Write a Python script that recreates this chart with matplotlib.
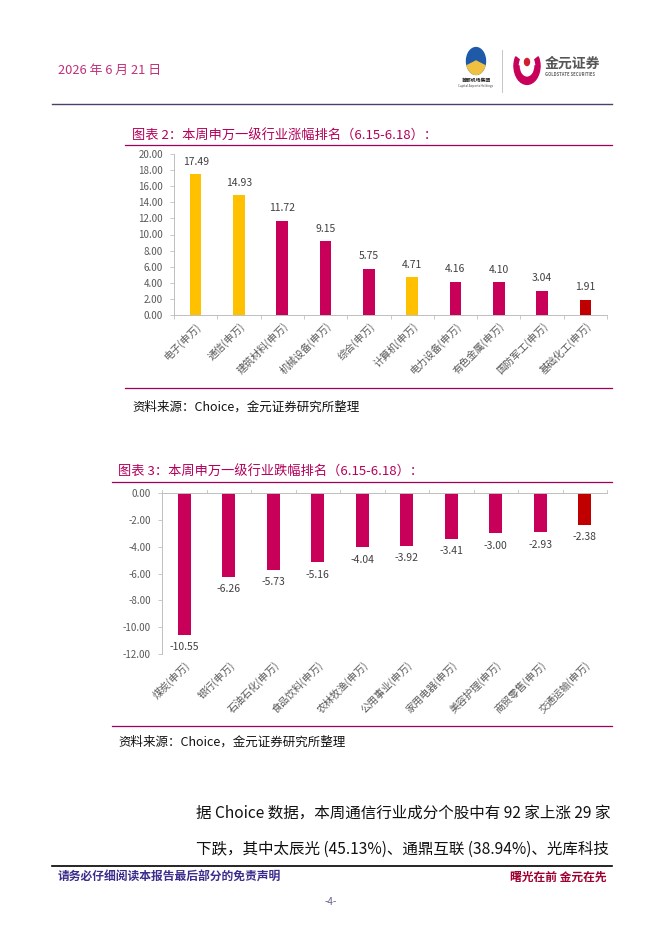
import matplotlib
matplotlib.use("Agg")
import matplotlib.pyplot as plt
from matplotlib.patches import Circle, Wedge
from matplotlib.lines import Line2D

plt.rcParams['font.family'] = ['Noto Sans CJK SC', 'DejaVu Sans']
plt.rcParams['axes.unicode_minus'] = False

# data
up_names = ["电子(申万)", "通信(申万)", "建筑材料(申万)", "机械设备(申万)", "综合(申万)",
            "计算机(申万)", "电力设备(申万)", "有色金属(申万)", "国防军工(申万)", "基础化工(申万)"]
up_vals = [17.49, 14.93, 11.72, 9.15, 5.75, 4.71, 4.16, 4.10, 3.04, 1.91]
up_gold = ["电子(申万)", "通信(申万)", "计算机(申万)"]

down_names = ["煤炭(申万)", "银行(申万)", "石油石化(申万)", "食品饮料(申万)", "农林牧渔(申万)",
              "公用事业(申万)", "家用电器(申万)", "美容护理(申万)", "商贸零售(申万)", "交通运输(申万)"]
down_vals = [-10.55, -6.26, -5.73, -5.16, -4.04, -3.92, -3.41, -3.00, -2.93, -2.38]

GOLD = "#FFC000"
MAG = "#C8005A"
RED = "#C00000"
TXT = "#404040"

W, H = 662, 936
fig = plt.figure(figsize=(W / 100, H / 100), dpi=100)


def fx(x):
    return x / W


def fy(y):
    return 1 - y / H


def hline(y, x0, x1, color, lw=1.0):
    fig.add_artist(Line2D([fx(x0), fx(x1)], [fy(y), fy(y)], color=color, lw=lw,
                          transform=fig.transFigure))


def ftext(x, y, s, **kw):
    fig.text(fx(x), fy(y), s, **kw)


# header
ftext(58, 70, "2026 年 6 月 21 日", color="#C0307A", fontsize=9.3, va="center")
hline(104, 52, 612, "#4B3F6B", 1.0)

# logos (rough)
c1 = Circle((fx(476), fy(61)), 9.5 / W, transform=fig.transFigure, color="#1E5AA8")
fig.add_artist(c1)
c1b = Wedge((fx(476), fy(61)), 9.5 / W, 200, 340, transform=fig.transFigure, color="#F0C040")
fig.add_artist(c1b)
ftext(476, 80, "首都机场集团", fontsize=3.5, ha="center", va="center", fontweight="bold", color="#222222")
ftext(476, 86, "Capital Airports Holdings", fontsize=2.2, ha="center", va="center", color="#444444")
fig.add_artist(Line2D([fx(502), fx(502)], [fy(50), fy(92)], color="#BBBBBB", lw=0.6,
                      transform=fig.transFigure))
fig.add_artist(Wedge((fx(527), fy(66)), 13 / W, 180, 360, width=5 / W,
                     transform=fig.transFigure, color="#C8005A"))
fig.add_artist(Wedge((fx(527), fy(66)), 13 / W, 150, 180, width=4 / W,
                     transform=fig.transFigure, color="#C8005A"))
fig.add_artist(Wedge((fx(527), fy(66)), 13 / W, 0, 30, width=4 / W,
                     transform=fig.transFigure, color="#C8005A"))
fig.add_artist(Circle((fx(527), fy(62)), 2.5 / W, transform=fig.transFigure, color="#D02030"))
ftext(545, 64, "金元证券", fontsize=10, fontweight="bold", color="#555555", va="center")
ftext(545, 75, "GOLDSTATE SECURITIES", fontsize=3, fontweight="bold", color="#666666", va="center")

# ---- chart 2 ----
ftext(132, 136, "图表 2：本周申万一级行业涨幅排名（6.15-6.18）：", color="#B4005A",
      fontsize=9.5, va="center")
hline(145, 125, 612, "#A0005A", 0.9)

ax1 = fig.add_axes([fx(174), fy(315), (607 - 174) / W, (315 - 154) / H])
xs = range(len(up_names))
cols = [GOLD if n in up_gold else MAG for n in up_names]
cols[-1] = RED
ax1.bar(xs, up_vals, width=0.27, color=cols)
for i, v in enumerate(up_vals):
    ax1.text(i, v + 0.9, "%.2f" % v, ha="center", va="bottom", fontsize=7.5, color=TXT)
ax1.set_xlim(-0.5, len(up_names) - 0.5)
ax1.set_ylim(0, 20)
ax1.set_yticks(range(0, 21, 2))
ax1.set_yticklabels(["%.2f" % t for t in range(0, 21, 2)], fontsize=7, color="#595959")
ax1.set_xticks(list(xs))
ax1.set_xticklabels(up_names, rotation=45, ha="right", rotation_mode="anchor",
                    fontsize=7.3, color="#595959")
ax1.tick_params(axis="x", length=0, pad=4)
ax1.set_xticks([i + 0.5 for i in range(-1, len(up_names))], minor=True)
ax1.tick_params(axis="x", which="minor", length=3, color="#BFBFBF", width=0.6)
ax1.tick_params(axis="y", length=3, color="#BFBFBF", width=0.6, pad=5)
for s in ["top", "right"]:
    ax1.spines[s].set_visible(False)
for s in ["left", "bottom"]:
    ax1.spines[s].set_color("#BFBFBF")
    ax1.spines[s].set_linewidth(0.7)

hline(388, 125, 612, "#A0005A", 0.9)
ftext(132, 407, "资料来源：Choice，金元证券研究所整理", fontsize=9, color="#111111", va="center")

# ---- chart 3 ----
ftext(118, 472, "图表 3：本周申万一级行业跌幅排名（6.15-6.18）：", color="#B4005A",
      fontsize=9.5, va="center")
hline(482, 112, 612, "#A0005A", 0.9)

ax2 = fig.add_axes([fx(162), fy(654), (607 - 162) / W, (654 - 493) / H])
xs2 = range(len(down_names))
cols2 = [MAG] * len(down_names)
cols2[-1] = RED
ax2.bar(xs2, down_vals, width=0.29, color=cols2)
for i, v in enumerate(down_vals):
    ax2.text(i, v - 0.55, "%.2f" % v, ha="center", va="top", fontsize=7.5, color=TXT)
ax2.set_xlim(-0.5, len(down_names) - 0.5)
ax2.set_ylim(-12, 0)
ax2.set_yticks(range(-12, 1, 2))
ax2.set_yticklabels(["%.2f" % t for t in range(-12, 1, 2)], fontsize=7, color="#595959")
ax2.set_xticks(list(xs2))
ax2.set_xticklabels(down_names, rotation=45, ha="right", rotation_mode="anchor",
                    fontsize=7.3, color="#595959")
ax2.tick_params(axis="x", length=0, pad=4)
ax2.xaxis.set_ticks_position("bottom")
ax2.tick_params(axis="y", length=3, color="#BFBFBF", width=0.6, pad=5)
for s in ["bottom", "right"]:
    ax2.spines[s].set_visible(False)
for s in ["left", "top"]:
    ax2.spines[s].set_color("#BFBFBF")
    ax2.spines[s].set_linewidth(0.7)
for i in range(-1, len(down_names)):
    ax2.plot([i + 0.5, i + 0.5], [0, 0.25], color="#BFBFBF", lw=0.6, clip_on=False)

hline(726, 112, 612, "#A0005A", 0.9)
ftext(118, 742, "资料来源：Choice，金元证券研究所整理", fontsize=9, color="#111111", va="center")

# body text
ftext(196, 813, "据 Choice 数据，本周通信行业成分个股中有 92 家上涨 29 家",
      fontsize=11.2, color="#111111", va="center")
ftext(196, 849, "下跌，其中太辰光 (45.13%)、通鼎互联 (38.94%)、光库科技",
      fontsize=11.2, color="#111111", va="center")

# footer
hline(866, 52, 612, "#000000", 1.2)
ftext(58, 877, "请务必仔细阅读本报告最后部分的免责声明", fontsize=8.5, fontweight="bold",
      color="#3C2D8C", va="center")
ftext(607, 877, "曙光在前 金元在先", fontsize=8.5, fontweight="bold", color="#A00030",
      va="center", ha="right")
ftext(331, 902, "-4-", fontsize=7, color="#6B5F8F", ha="center", va="center")

fig.savefig("out.png", dpi=100)
